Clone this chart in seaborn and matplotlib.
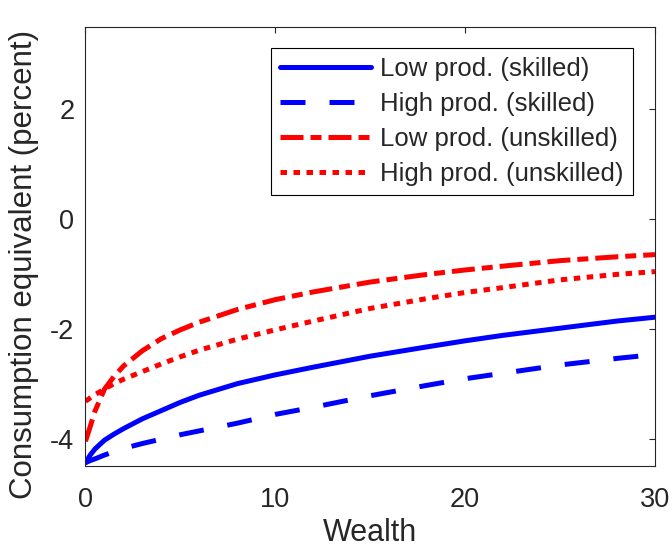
import numpy as np
import pandas as pd
import matplotlib
matplotlib.use("Agg")
import matplotlib.pyplot as plt
import seaborn as sns

# ---- data ----
wealth = [0, 0.25, 0.5, 1, 1.5, 2, 3, 4, 5, 6, 8, 10, 12, 15, 18, 20, 22, 25, 28, 30]
low_skilled = [-4.44, -4.30, -4.19, -4.03, -3.92, -3.82, -3.64, -3.49, -3.34, -3.21,
               -3.00, -2.84, -2.70, -2.50, -2.33, -2.22, -2.12, -1.99, -1.86, -1.79]
high_skilled = [-4.44, -4.40, -4.37, -4.30, -4.24, -4.18, -4.09, -4.01, -3.93, -3.86,
                -3.72, -3.56, -3.43, -3.22, -3.03, -2.91, -2.81, -2.66, -2.54, -2.47]
low_unskilled = [-4.05, -3.78, -3.50, -3.10, -2.87, -2.68, -2.40, -2.18, -2.02, -1.88,
                 -1.65, -1.47, -1.33, -1.15, -1.01, -0.93, -0.86, -0.76, -0.69, -0.65]
high_unskilled = [-3.32, -3.26, -3.20, -3.10, -3.00, -2.92, -2.78, -2.64, -2.51, -2.39,
                  -2.19, -2.02, -1.86, -1.63, -1.45, -1.34, -1.25, -1.11, -1.01, -0.96]
series_labels = ["Low prod. (skilled)", "High prod. (skilled)",
                 "Low prod. (unskilled)", "High prod. (unskilled)"]
x_ticks = [0, 10, 20, 30]
y_ticks = [-4, -2, 0, 2]

# ---- styling ----
sns.set_style("white")
plt.rcParams["font.family"] = ["Liberation Sans", "DejaVu Sans"]
axcol = "#262626"

fig = plt.figure(figsize=(6.72, 5.53), dpi=100)
ax = fig.add_axes([0.1272, 0.1573, 0.8475, 0.7944])

lw = 3.6
styles = [
    dict(color="#0000ff", linestyle="-"),
    dict(color="#0000ff", linestyle=(0, (5.0, 4.8))),
    dict(color="#ff0000", linestyle=(0, (4.6, 1.4, 2.2, 1.4))),
    dict(color="#ff0000", linestyle=(0, (1.3, 1.3))),
]
all_y = [low_skilled, high_skilled, low_unskilled, high_unskilled]
for yv, lab, st in zip(all_y, series_labels, styles):
    df = pd.DataFrame({"Wealth": wealth, "val": yv})
    sns.lineplot(data=df, x="Wealth", y="val", ax=ax, label=lab,
                 linewidth=lw, **st)

ax.set_xlim(0, 30)
ax.set_ylim(-4.5, 3.5)
ax.set_xticks(x_ticks)
ax.set_yticks(y_ticks)
ax.set_xticklabels([str(v) for v in x_ticks])
ax.set_yticklabels([str(v) for v in y_ticks])

for sp in ax.spines.values():
    sp.set_color(axcol)
    sp.set_linewidth(0.8)
    sp.set_visible(True)

ax.tick_params(direction="in", length=4.5, width=0.8, colors=axcol,
               labelsize=19.5, top=True, right=True)
ax.tick_params(axis="x", pad=15)
ax.tick_params(axis="y", pad=8)

ax.set_xlabel("Wealth", fontsize=22, color=axcol)
ax.set_ylabel("Consumption equivalent (percent)", fontsize=22.5, color=axcol)
ax.xaxis.set_label_coords(0.5, -0.118)
ax.yaxis.set_label_coords(-0.0817, 0.459)

leg = ax.legend(loc="upper right", bbox_to_anchor=(0.9614, 0.9515),
                borderaxespad=0, fontsize=18.5, handlelength=3.54,
                handletextpad=0.35, labelspacing=0.42, borderpad=0.36,
                fancybox=False, framealpha=1, edgecolor="black")
leg.get_frame().set_linewidth(0.8)

fig.savefig("out.png", dpi=100)
